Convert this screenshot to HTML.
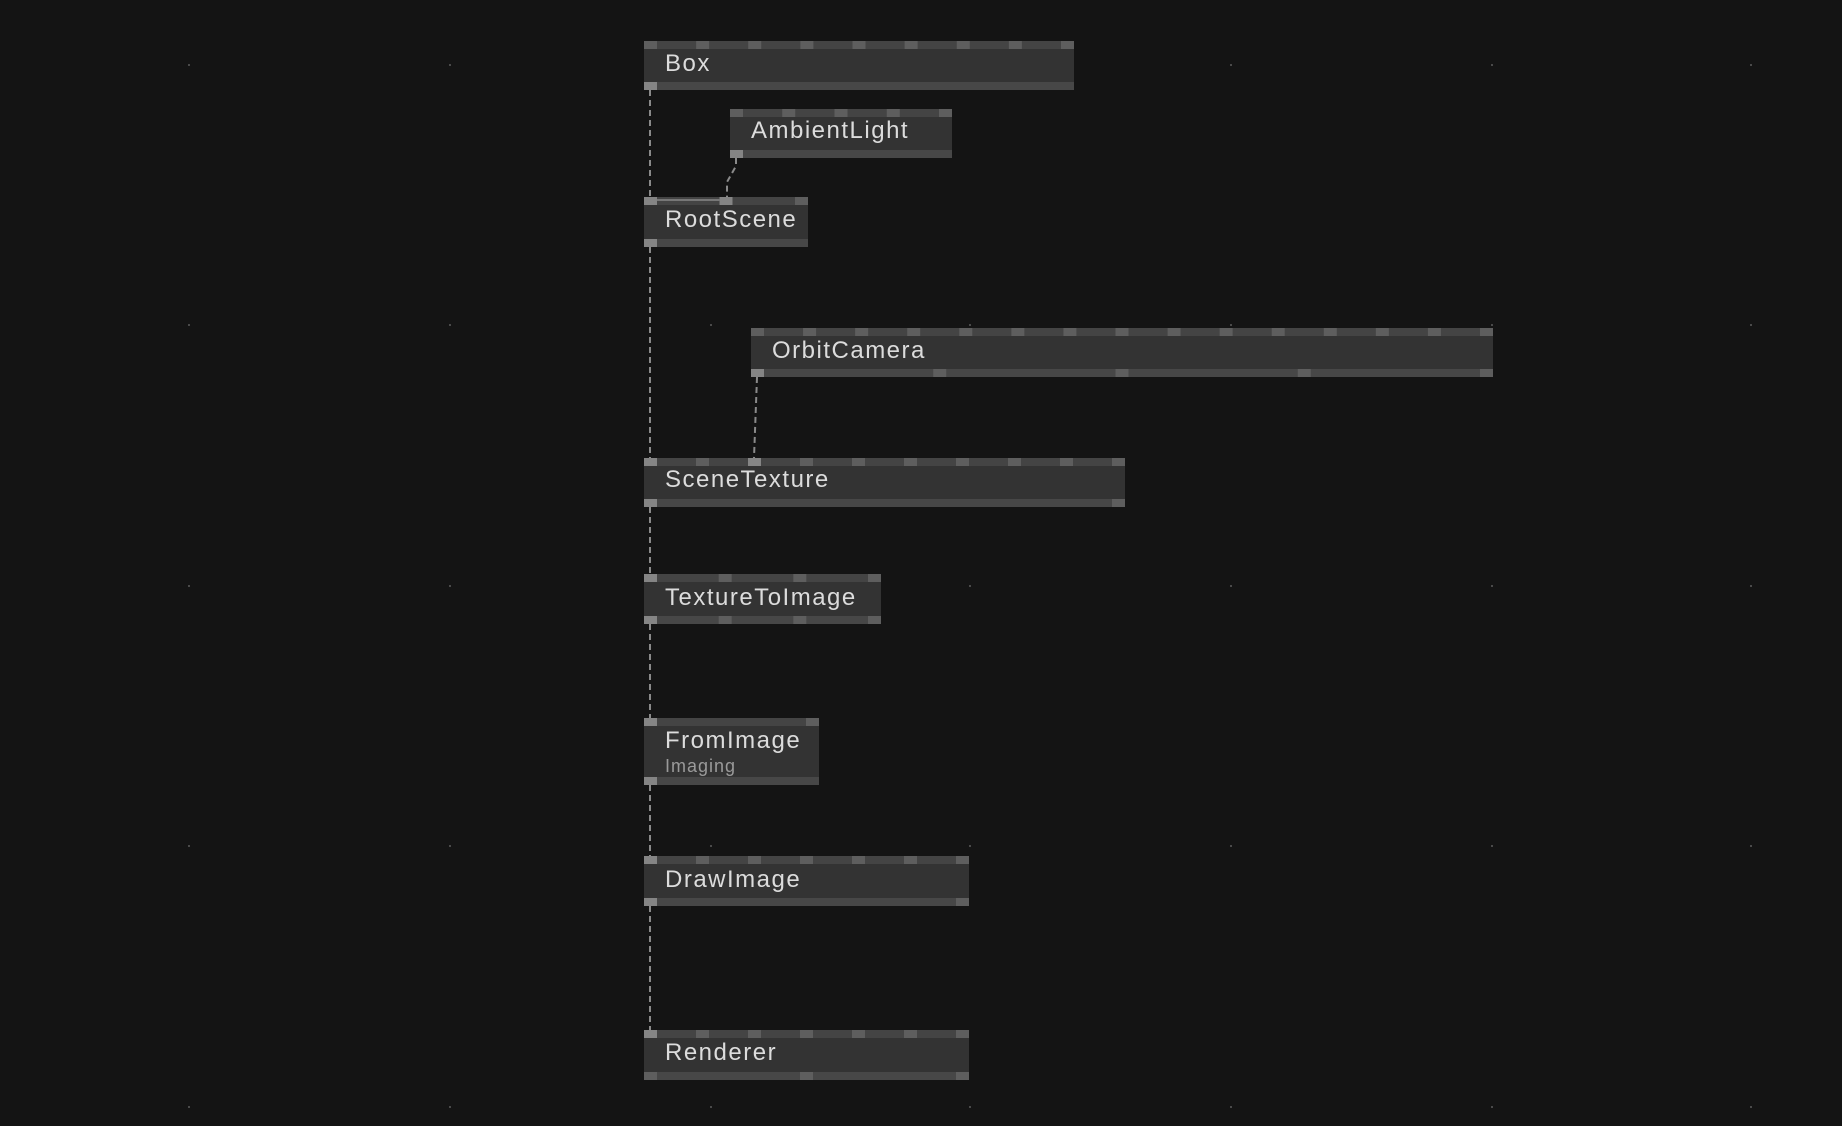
<!DOCTYPE html>
<html><head><meta charset="utf-8">
<style>
html,body{margin:0;padding:0;background:#141414;width:1842px;height:1126px;overflow:hidden}
svg{display:block}
text{font-family:"Liberation Sans",sans-serif}
</style></head>
<body>
<svg id="s" width="1842" height="1126" xmlns="http://www.w3.org/2000/svg">
<g id="dots" fill="#4a4a4a"></g>
<g id="wires" stroke="#8a8a8a" stroke-width="2" stroke-dasharray="6,4" fill="none">
<path d="M650 90 V197"/>
<path d="M736 158 V166 L727 182 V197"/>
<path d="M650 247 V458"/>
<path d="M757 377 L754 458"/>
<path d="M650 507 V574"/>
<path d="M650 624 V718"/>
<path d="M650 785 V856"/>
<path d="M650 906 V1030"/>
</g>
<g id="nodes"></g>
<g fill="#dcdcdc" font-size="24" letter-spacing="1.5">
<text x="665" y="71">Box</text>
<text x="751" y="138">AmbientLight</text>
<text x="665" y="227">RootScene</text>
<text x="772" y="358">OrbitCamera</text>
<text x="665" y="487">SceneTexture</text>
<text x="665" y="605">TextureToImage</text>
<text x="665" y="748">FromImage</text>
<text x="665" y="772" font-size="18" fill="#9a9a9a" letter-spacing="1">Imaging</text>
<text x="665" y="887">DrawImage</text>
<text x="665" y="1060">Renderer</text>
</g>
</svg>
<script>
var NS="http://www.w3.org/2000/svg";
function el(p,t,a){var e=document.createElementNS(NS,t);for(var k in a)e.setAttribute(k,a[k]);p.appendChild(e);return e;}
var dots=document.getElementById('dots');
[189,450,711,970,1231,1492,1751].forEach(function(x){[65,325,586,846,1107].forEach(function(y){el(dots,'rect',{x:x-1,y:y-1,width:2,height:2});});});
var g=document.getElementById('nodes');
var N=[
[644,41,430,49,9,1,[],[0]],
[730,109,222,49,5,1,[],[0]],
[644,197,164,50,3,1,[0,1],[0]],
[751,328,742,49,15,5,[],[0]],
[644,458,481,49,10,2,[0,2],[0]],
[644,574,237,50,4,4,[0],[0]],
[644,718,175,67,2,1,[0],[0]],
[644,856,325,50,7,2,[0],[0]],
[644,1030,325,50,7,3,[0],[]]
];
N.forEach(function(n){
 var x=n[0],y=n[1],w=n[2],h=n[3];
 el(g,'rect',{x:x,y:y,width:w,height:h,fill:'#333'});
 el(g,'rect',{x:x,y:y,width:w,height:8,fill:'#444'});
 el(g,'rect',{x:x,y:y+h-8,width:w,height:8,fill:'#474747'});
 function pins(cnt,py,con){
  for(var i=0;i<cnt;i++){
   var px=cnt==1?x:x+i*(w-13)/(cnt-1);
   el(g,'rect',{x:px,y:py,width:13,height:8,fill:con.indexOf(i)>=0?'#858585':'#5e5e5e'});
  }
 }
 pins(n[4],y,n[6]);pins(n[5],y+h-8,n[7]);
});
el(g,'line',{x1:657,y1:200,x2:720,y2:200,stroke:'#777','stroke-width':2});
</script>
</body></html>
